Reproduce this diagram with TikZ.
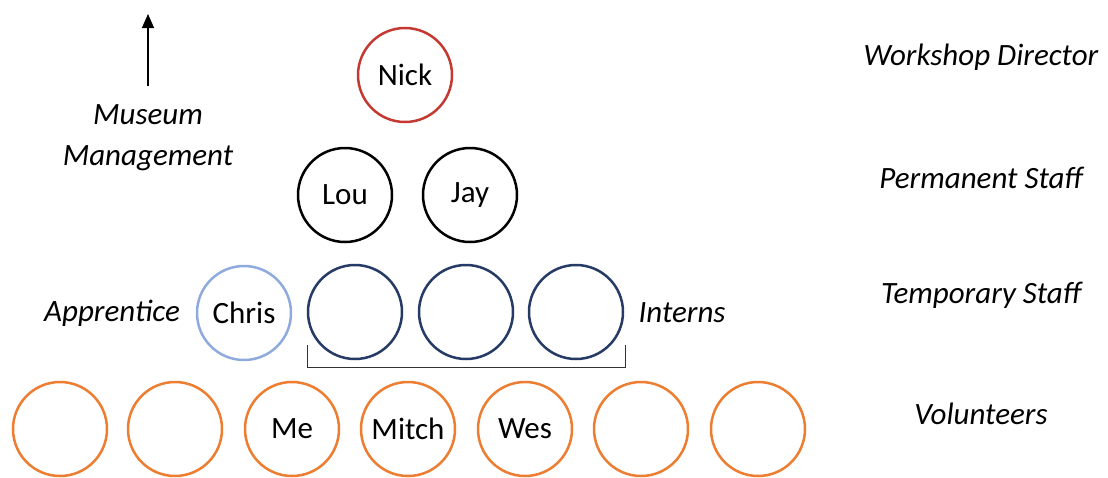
\documentclass[tikz,border=0pt]{standalone}
\usepackage{fontspec}
\setmainfont{Carlito}
\usetikzlibrary{arrows.meta}
\definecolor{nickred}{RGB}{196,58,50}
\definecolor{chrisblue}{RGB}{143,170,220}
\definecolor{interndark}{RGB}{38,58,102}
\definecolor{volorange}{RGB}{237,125,49}
\begin{document}
\begin{tikzpicture}[x=1pt,y=-1pt,
  txt/.style={font=\fontsize{31}{37}\selectfont, inner sep=0pt},
  lbl/.style={txt, font=\fontsize{31}{37}\selectfont\itshape},
  person/.style={circle, draw, line width=2.5pt, minimum size=94pt, inner sep=0pt, font=\fontsize{31}{37}\selectfont},
]
\useasboundingbox (0,0) rectangle (1108,477);
% level 1
\node[person, draw=nickred] (nick) at (405,75) {Nick};
% level 2
\node[person, draw=black] (lou) at (345,195) {Lou};
\node[person, draw=black] (jay) at (470,195) {Jay};
% level 3
\node[person, draw=chrisblue] (chris) at (244,313) {Chris};
\node[person, draw=interndark] (i1) at (355,312) {};
\node[person, draw=interndark] (i2) at (466,312) {};
\node[person, draw=interndark] (i3) at (576,312) {};
% level 4
\node[person, draw=volorange] (v1) at (60,429) {};
\node[person, draw=volorange] (v2) at (175,429) {};
\node[person, draw=volorange] (v3) at (292,429) {Me};
\node[person, draw=volorange] (v4) at (408,429) {Mitch};
\node[person, draw=volorange] (v5) at (525,429) {Wes};
\node[person, draw=volorange] (v6) at (641,429) {};
\node[person, draw=volorange] (v7) at (758,429) {};
% left labels
\node[lbl] (museum) at (148,115) {Museum};
\node[lbl] (mgmt) at (148,158) {Management};
\coordinate (arrbot) at (148,86);
\coordinate (arrtop) at (148,14);
\draw[line width=1.3pt, -{Triangle[length=14pt,width=12pt]}] (arrbot) -- (arrtop);
\node[lbl] (appr) at (112,313) {Apprentice};
\node[lbl] (interns) at (682,313) {Interns};
% bracket
\coordinate (bl) at (307,345);
\coordinate (br) at (625,345);
\draw[line width=1pt, black!80] (bl) -- ++(0,22) -| (br);
% right labels
\node[lbl] (wd) at (981,57) {Workshop Director};
\node[lbl] (ps) at (981,178) {Permanent Staff};
\node[lbl] (ts) at (981,295) {Temporary Staff};
\node[lbl] (vol) at (981,414) {Volunteers};
\end{tikzpicture}
\end{document}
